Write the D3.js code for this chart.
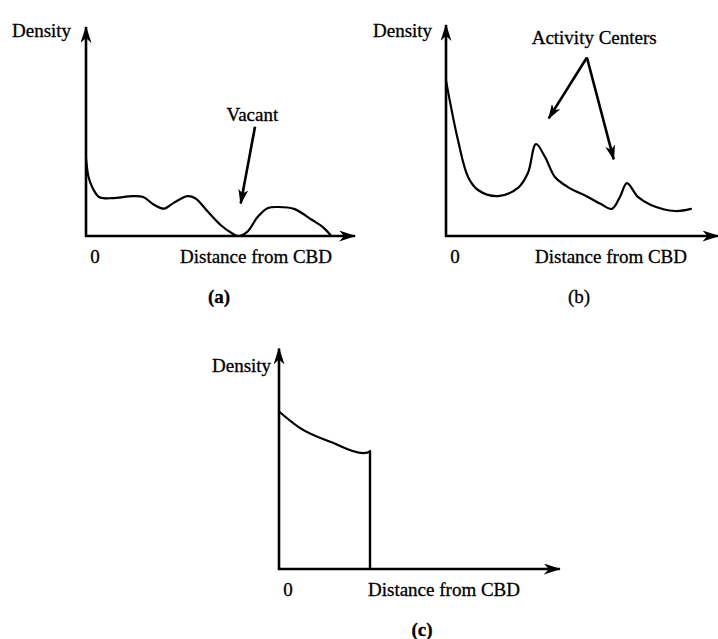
<!DOCTYPE html>
<html>
<head>
<meta charset="utf-8">
<script src="https://cdn.jsdelivr.net/npm/d3@7"></script>
<style>
  html, body { margin: 0; padding: 0; background: #fff; }
  text { font-family: "Liberation Serif", "Times New Roman", serif; fill: #000; stroke: #000; stroke-width: 0.3px; }
</style>
</head>
<body>
<svg id="chart" width="718" height="639"></svg>
<script>
// ---- data (distance from CBD in arbitrary units 0-100, density 0-100) ----
const distA = [0, 1, 2.5, 5, 10, 18, 22, 26, 30, 34, 39, 42, 47, 52, 56, 58.5, 62, 66, 70, 74, 80, 87, 91, 94];
const densA = [37, 28, 23, 18.6, 18, 19, 18.6, 15, 13, 16, 19, 18, 11.4, 5, 1.4, 0, 2, 9, 13.3, 13.8, 12.9, 7.6, 4.3, 0.5];

const distB = [0, 4.6, 8.5, 12.3, 20, 27.7, 31.5, 34.6, 38.1, 41.9, 46.9, 54.6, 59.6, 63.8, 66.9, 69.6, 73.8, 78.8, 88.1, 94.2];
const densB = [74, 45.7, 28.1, 21.9, 19, 22.9, 30, 43.8, 37.6, 28.1, 23.3, 18.6, 15.2, 12.9, 18.6, 25.2, 18.6, 14.8, 11.9, 12.9];

const distC = [0, 8, 20.5, 32.3, 34, 35];
const densC = [75, 67.2, 60.2, 55.2, 55.4, 56.2];
const cutoffC = 35;

const panelLabels = ["(a)", "(b)", "(c)"];
const panelBold = [true, false, true];
const yTitle = "Density";
const xTitle = "Distance from CBD";
const zeroLabel = "0";
const noteA = "Vacant";
const noteB = "Activity Centers";

// ---- layout ----
const svg = d3.select("#chart");
const defs = svg.append("defs");
function marker(id, len, wid, notch) {
  defs.append("marker")
    .attr("id", id)
    .attr("viewBox", `0 0 ${len} ${wid}`)
    .attr("refX", len - 1).attr("refY", wid / 2)
    .attr("markerWidth", len).attr("markerHeight", wid)
    .attr("markerUnits", "userSpaceOnUse")
    .attr("orient", "auto")
    .append("path")
    .attr("d", `M0,0 L${len},${wid / 2} L0,${wid} L${notch},${wid / 2} Z`)
    .attr("fill", "#000");
}
marker("arrAxis", 17, 11, 5);
marker("arrNote", 15, 10, 4);

function panel(cfg) {
  const x = d3.scaleLinear().domain([0, 100]).range([cfg.ox, cfg.ox + 260]);
  const y = d3.scaleLinear().domain([0, 100]).range([cfg.oy, cfg.oy - 210]);
  const g = svg.append("g");

  // axes
  g.append("line")
    .attr("x1", x(0)).attr("y1", y(0) + 1).attr("x2", x(0)).attr("y2", y(cfg.yMax))
    .attr("stroke", "#000").attr("stroke-width", 2.6).attr("marker-end", "url(#arrAxis)");
  g.append("line")
    .attr("x1", x(0) - 1).attr("y1", y(0)).attr("x2", x(cfg.xMax)).attr("y2", y(0))
    .attr("stroke", "#000").attr("stroke-width", 2.6).attr("marker-end", "url(#arrAxis)");

  // curve
  const pts = cfg.dist.map((d, i) => [d, cfg.dens[i]]);
  const line = d3.line().x(d => x(d[0])).y(d => y(d[1])).curve(cfg.curve || d3.curveCatmullRom.alpha(0.5));
  g.append("path").attr("d", line(pts))
    .attr("fill", "none").attr("stroke", "#000").attr("stroke-width", 2.2)
    .attr("stroke-linejoin", "round").attr("stroke-linecap", "round");

  // labels
  g.append("text").attr("x", cfg.densX).attr("y", cfg.densY).attr("font-size", 19).text(yTitle);
  g.append("text").attr("x", x(0) + 9).attr("y", y(0) + 27).attr("font-size", 19)
    .attr("text-anchor", "middle").text(zeroLabel);
  g.append("text").attr("x", cfg.distX).attr("y", y(0) + 27).attr("font-size", 19).text(xTitle);
  g.append("text").attr("x", cfg.labX).attr("y", y(0) + 67).attr("font-size", 19)
    .attr("font-weight", cfg.bold ? "bold" : "normal")
    .attr("text-anchor", "middle").text(cfg.label);
  return { g, x, y };
}

// (a)
const pa = panel({ ox: 86, oy: 236, dist: distA, dens: densA, xMax: 103.5, yMax: 99.5,
  densX: 12, densY: 37, distX: 180, labX: 219, label: panelLabels[0], bold: panelBold[0] });
pa.g.append("text").attr("x", pa.x(64)).attr("y", pa.y(55)).attr("font-size", 19)
  .attr("text-anchor", "middle").text(noteA);
pa.g.append("line")
  .attr("x1", pa.x(65)).attr("y1", pa.y(52)).attr("x2", pa.x(59.5)).attr("y2", pa.y(15.5))
  .attr("stroke", "#000").attr("stroke-width", 2.6).attr("marker-end", "url(#arrNote)");

// (b)
const pb = panel({ ox: 446, oy: 236, dist: distB, dens: densB, xMax: 104.8, yMax: 100.5,
  densX: 373, densY: 37, distX: 535, labX: 579, label: panelLabels[1], bold: panelBold[1] });
pb.g.append("text").attr("x", pb.x(57)).attr("y", pb.y(91.5)).attr("font-size", 19)
  .attr("text-anchor", "middle").text(noteB);
pb.g.append("line")
  .attr("x1", pb.x(54.2)).attr("y1", pb.y(85)).attr("x2", pb.x(39.5)).attr("y2", pb.y(56))
  .attr("stroke", "#000").attr("stroke-width", 2.6).attr("marker-end", "url(#arrNote)");
pb.g.append("line")
  .attr("x1", pb.x(54.2)).attr("y1", pb.y(85)).attr("x2", pb.x(64.5)).attr("y2", pb.y(36.5))
  .attr("stroke", "#000").attr("stroke-width", 2.6).attr("marker-end", "url(#arrNote)");

// (c)
const pc = panel({ ox: 279, oy: 569, dist: distC, dens: densC, xMax: 108, yMax: 105,
  densX: 212, densY: 372, distX: 368, labX: 422, label: panelLabels[2], bold: panelBold[2],
  curve: d3.curveMonotoneX });
pc.g.append("line")
  .attr("x1", pc.x(cutoffC)).attr("y1", pc.y(densC[densC.length - 1]))
  .attr("x2", pc.x(cutoffC)).attr("y2", pc.y(0))
  .attr("stroke", "#000").attr("stroke-width", 2.4);
</script>
</body>
</html>
